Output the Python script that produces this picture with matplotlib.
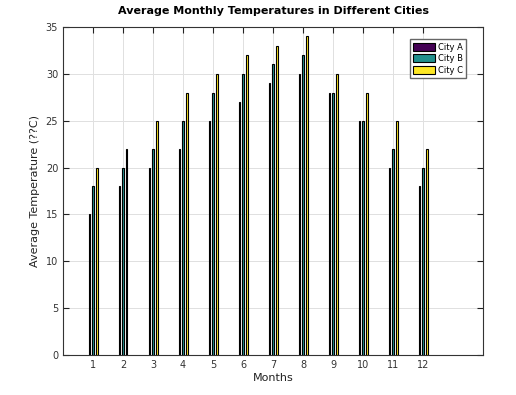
import numpy as np
import matplotlib
matplotlib.use("Agg")
import matplotlib.pyplot as plt

months = [1, 2, 3, 4, 5, 6, 7, 8, 9, 10, 11, 12]
city_a = [15, 18, 20, 22, 25, 27, 29, 30, 28, 25, 20, 18]
city_b = [18, 20, 22, 25, 28, 30, 31, 32, 28, 25, 22, 20]
city_c = [20, 22, 25, 28, 30, 32, 33, 34, 30, 28, 25, 22]
names = ["City A", "City B", "City C"]
colors = ["#440154", "#21908d", "#fde725"]

fig = plt.figure(figsize=(5.16, 3.95), dpi=100)
ax = fig.add_axes([63 / 516, 40 / 395, 420 / 516, 328 / 395])

x = np.array(months)
offs = [-0.12, 0.0, 0.12]
for vals, off, c, n in zip([city_a, city_b, city_c], offs, colors, names):
    ax.bar(x + off, vals, width=0.06, color=c, edgecolor="black", linewidth=0.8, label=n)

ax.set_xlim(0, 14)
ax.set_ylim(0, 35)
ax.set_xticks(months)
ax.set_yticks(range(0, 36, 5))
ax.grid(True, color="#e0e0e0", linewidth=0.7)
ax.set_axisbelow(True)
ax.tick_params(direction="in", top=True, right=True, labelsize=7, labelcolor="#333333",
               color="#222222", length=4)
for s in ax.spines.values():
    s.set_color("#333333")
    s.set_linewidth(0.8)

ax.set_xlabel("Months", fontsize=8, labelpad=2, color="#222222")
ax.set_ylabel("Average Temperature (??C)", fontsize=8, color="#222222")
ax.set_title("Average Monthly Temperatures in Different Cities", fontsize=8, fontweight="bold", pad=9)
leg = ax.legend(loc="upper right", bbox_to_anchor=(0.97, 0.975), fontsize=6, fancybox=False,
                edgecolor="#666666", handlelength=2.6, handleheight=1.1, borderpad=0.4,
                labelspacing=0.3, handletextpad=0.4, framealpha=1)
for h in leg.legend_handles:
    h.set_linewidth(0.8)

fig.savefig("out.png", dpi=100)
